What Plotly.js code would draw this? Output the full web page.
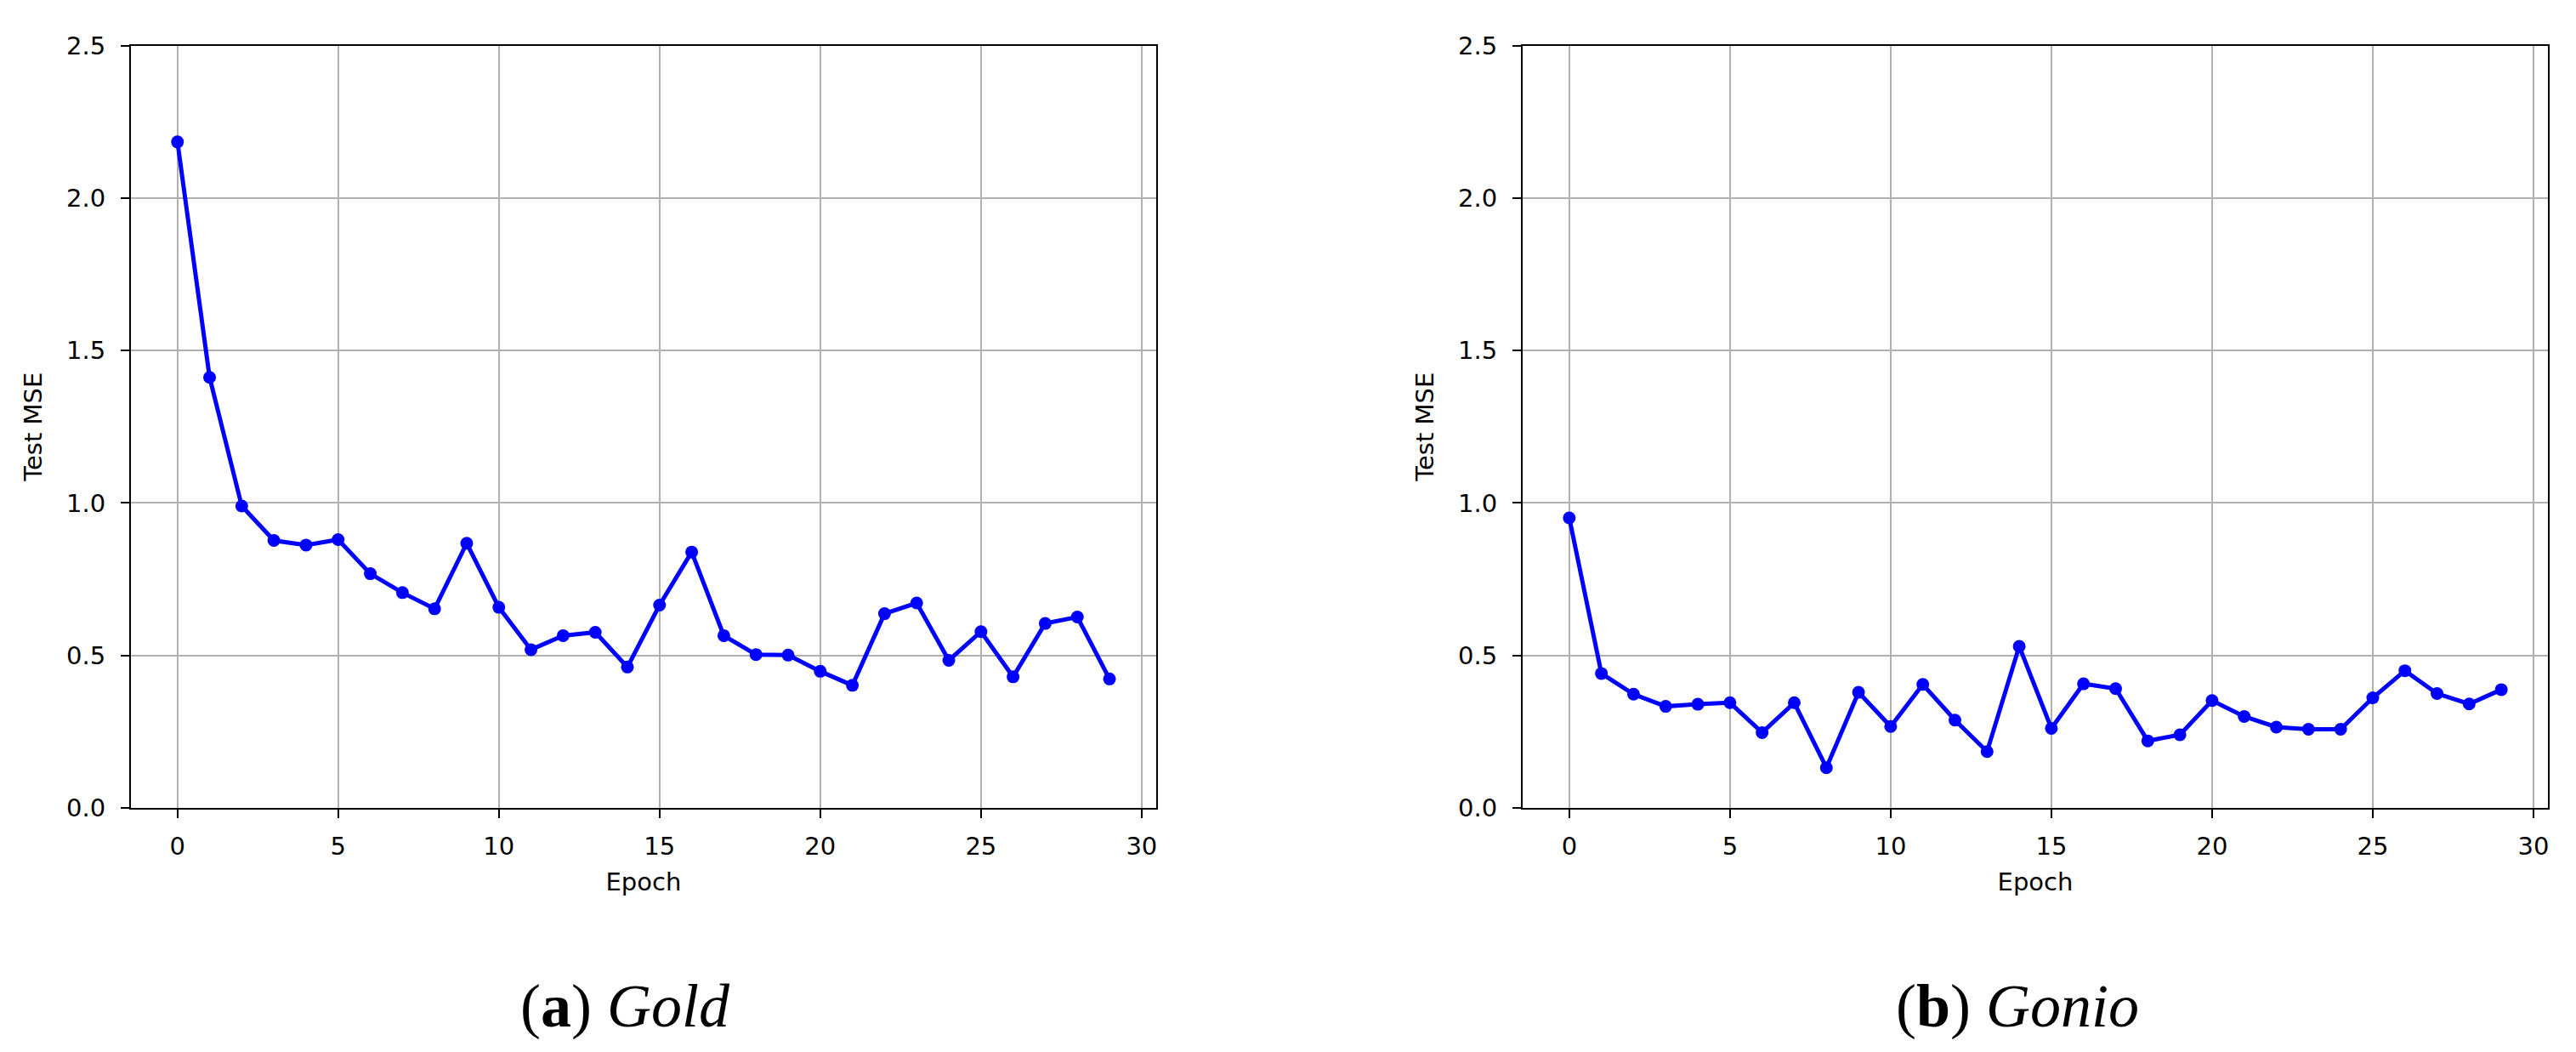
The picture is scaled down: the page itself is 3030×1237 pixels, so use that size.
<!DOCTYPE html>
<html>
<head>
<meta charset="utf-8">
<script src="https://cdn.plot.ly/plotly-3.0.1.min.js"></script>
<style>html,body{margin:0;padding:0;background:#fff;}#chart{width:3030px;height:1237px;}</style>
</head>
<body>
<div id="chart"></div>
<script>
// Data
const epochs = [0,1,2,3,4,5,6,7,8,9,10,11,12,13,14,15,16,17,18,19,20,21,22,23,24,25,26,27,28,29];
const goldMSE = [2.184,1.412,0.990,0.877,0.862,0.880,0.768,0.706,0.653,0.868,0.658,0.519,0.565,0.576,0.462,0.665,0.839,0.565,0.503,0.501,0.448,0.402,0.637,0.672,0.484,0.578,0.430,0.605,0.626,0.423];
const gonioMSE = [0.951,0.441,0.373,0.333,0.340,0.345,0.247,0.345,0.132,0.379,0.267,0.405,0.288,0.185,0.530,0.261,0.407,0.391,0.220,0.240,0.352,0.300,0.265,0.258,0.258,0.361,0.450,0.375,0.341,0.388];
const yTicks = [0.0,0.5,1.0,1.5,2.0,2.5];
const xTicks = [0,5,10,15,20,25,30];
const xLabel = "Epoch";
const yLabel = "Test MSE";
const captions = [["a","Gold"],["b","Gonio"]];

const tickFont = {family: "DejaVu Sans", size: 29, color: "#000"};
const lineStyle = {color: "#0000ff", width: 5};
const markerStyle = {color: "#0000ff", size: 15};

function xAxis(domain, anchor) {
  return {
    domain: domain, anchor: anchor, range: [-1.45, 30.45],
    tickvals: xTicks, ticktext: xTicks.map(String),
    showgrid: true, gridcolor: "#b0b0b0", gridwidth: 2,
    zeroline: false, showline: true, linecolor: "#000", linewidth: 2, mirror: true,
    ticks: "outside", ticklen: 10, tickwidth: 2, tickcolor: "#000",
    tickfont: tickFont, ticklabelstandoff: 8,
    title: {text: xLabel, font: tickFont, standoff: 16}
  };
}
function yAxis(anchor) {
  return {
    domain: [0.232, 0.9567], anchor: anchor, range: [0, 2.5],
    tickvals: yTicks, ticktext: yTicks.map(v => v.toFixed(1)),
    showgrid: true, gridcolor: "#b0b0b0", gridwidth: 2,
    zeroline: false, showline: true, linecolor: "#000", linewidth: 2, mirror: true,
    ticks: "outside", ticklen: 10, tickwidth: 2, tickcolor: "#000",
    tickfont: tickFont, ticklabelstandoff: 12,
    title: {text: yLabel, font: tickFont, standoff: 20}
  };
}

const traces = [
  {x: epochs, y: goldMSE, xaxis: "x", yaxis: "y", type: "scatter", mode: "lines+markers",
   line: lineStyle, marker: markerStyle, hoverinfo: "skip"},
  {x: epochs, y: gonioMSE, xaxis: "x2", yaxis: "y2", type: "scatter", mode: "lines+markers",
   line: lineStyle, marker: markerStyle, hoverinfo: "skip"}
];

const capFont = {family: "Liberation Serif", size: 72, color: "#000"};
const layout = {
  width: 3030, height: 1237,
  margin: {l: 0, r: 0, t: 0, b: 0},
  paper_bgcolor: "#fff", plot_bgcolor: "#fff",
  showlegend: false,
  xaxis: xAxis([0.0508, 0.4488], "y"),
  yaxis: yAxis("x"),
  xaxis2: xAxis([0.5911, 0.9891], "y2"),
  yaxis2: yAxis("x2"),
  annotations: [
    {text: "(<b>" + captions[0][0] + "</b>) <i>" + captions[0][1] + "</i>", xref: "paper", yref: "paper",
     x: 735/3030, y: 1 - 1183/1237, xanchor: "center", yanchor: "middle", showarrow: false, font: capFont},
    {text: "(<b>" + captions[1][0] + "</b>) <i>" + captions[1][1] + "</i>", xref: "paper", yref: "paper",
     x: 2373/3030, y: 1 - 1183/1237, xanchor: "center", yanchor: "middle", showarrow: false, font: capFont}
  ]
};

Plotly.newPlot("chart", traces, layout, {displayModeBar: false, staticPlot: true});
</script>
</body>
</html>
